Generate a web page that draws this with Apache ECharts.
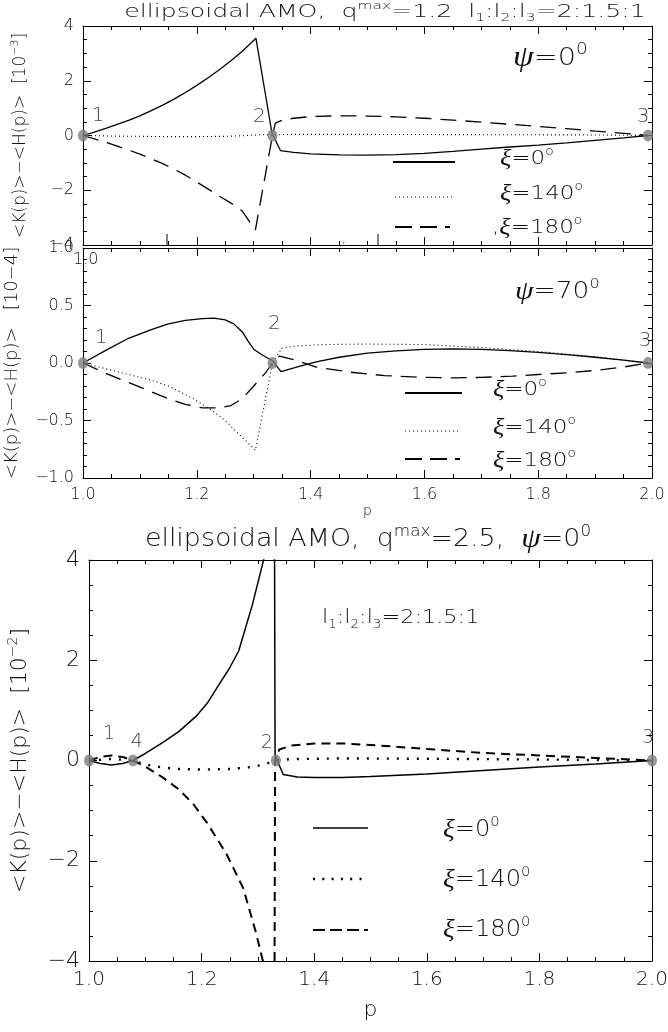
<!DOCTYPE html>
<html><head><meta charset="utf-8">
<script src="https://cdn.jsdelivr.net/npm/echarts@6/dist/echarts.min.js"></script>
<style>html,body{margin:0;padding:0;background:#fff}#c{width:668px;height:1032px}</style>
</head><body><div id="c"></div>
<script>
// ---------- DATA ----------
// Panel A: q_max = 1.2, psi = 0 deg  (units 1e-3)
const pA_xi0   = [1.00,1.02,1.04,1.06,1.08,1.10,1.12,1.14,1.16,1.18,1.20,1.22,1.24,1.26,1.28,1.304,1.332,1.347,1.37,1.40,1.45,1.50,1.55,1.60,1.65,1.70,1.75,1.80,1.85,1.90,1.95,1.993];
const vA_xi0   = [0,0.12,0.26,0.41,0.55,0.72,0.91,1.11,1.33,1.57,1.83,2.11,2.41,2.73,3.08,3.55,0.10,-0.55,-0.62,-0.67,-0.71,-0.72,-0.70,-0.65,-0.58,-0.50,-0.42,-0.35,-0.27,-0.18,-0.09,0];
const pA_xi140 = [1.00,1.05,1.10,1.15,1.20,1.25,1.28,1.31,1.333,1.36,1.50,1.70,1.90,1.993];
const vA_xi140 = [0,-0.02,-0.03,-0.04,-0.04,-0.03,-0.01,0.03,0.02,0.04,0.04,0.03,0.02,0];
const pA_xi180 = [1.00,1.02,1.04,1.06,1.08,1.10,1.12,1.14,1.16,1.18,1.20,1.22,1.24,1.26,1.28,1.303,1.333,1.338,1.35,1.37,1.40,1.45,1.50,1.55,1.60,1.65,1.70,1.75,1.80,1.85,1.90,1.95,1.993];
const vA_xi180 = [0,-0.12,-0.25,-0.39,-0.53,-0.68,-0.85,-1.03,-1.23,-1.45,-1.70,-1.96,-2.22,-2.47,-2.76,-3.45,0.0,0.45,0.56,0.63,0.69,0.72,0.71,0.68,0.63,0.56,0.49,0.41,0.33,0.25,0.16,0.08,0];
const ptsA_p = [1.0,1.333,1.993];
const ptsA_names = ['1','2','3'];

// Panel B: q_max = 1.2, psi = 70 deg (units 1e-4)
const pB_xi0   = [1.00,1.04,1.08,1.12,1.15,1.18,1.21,1.23,1.25,1.265,1.28,1.29,1.30,1.315,1.333,1.348,1.38,1.41,1.45,1.50,1.55,1.60,1.65,1.70,1.75,1.80,1.85,1.90,1.95,1.993];
const vB_xi0   = [0,0.11,0.215,0.29,0.34,0.37,0.385,0.39,0.375,0.34,0.27,0.19,0.12,0.07,0.02,-0.075,-0.03,0.01,0.05,0.085,0.105,0.118,0.122,0.118,0.108,0.092,0.072,0.05,0.025,0];
const pB_xi140 = [1.00,1.04,1.08,1.12,1.15,1.19,1.226,1.25,1.27,1.287,1.303,1.333,1.35,1.38,1.42,1.50,1.60,1.70,1.80,1.90,1.993];
const vB_xi140 = [0,-0.05,-0.1,-0.15,-0.2,-0.3,-0.41,-0.5,-0.6,-0.68,-0.76,0.0,0.13,0.15,0.16,0.165,0.16,0.135,0.1,0.055,0];
const pB_xi180 = [1.00,1.04,1.08,1.12,1.15,1.18,1.21,1.24,1.26,1.28,1.30,1.32,1.333,1.345,1.37,1.41,1.47,1.53,1.60,1.65,1.70,1.755,1.80,1.85,1.90,1.95,1.993];
const vB_xi180 = [0,-0.09,-0.17,-0.25,-0.31,-0.36,-0.39,-0.39,-0.37,-0.31,-0.2,-0.09,0.0,0.06,0.03,-0.035,-0.08,-0.11,-0.125,-0.13,-0.125,-0.115,-0.1,-0.085,-0.065,-0.035,0];
const ptsB_p = [1.0,1.333,1.993];
const ptsB_names = ['1','2','3'];

// Panel C: q_max = 2.5, psi = 0 deg (units 1e-2)
const pC_xi0   = [1.00,1.02,1.04,1.06,1.078,1.10,1.13,1.16,1.19,1.21,1.23,1.25,1.266,1.29,1.311,1.32,1.3295,1.3305,1.345,1.37,1.40,1.45,1.50,1.60,1.70,1.80,1.90,2.00];
const vC_xi0   = [0,-0.06,-0.09,-0.06,0,0.14,0.35,0.58,0.88,1.14,1.5,1.85,2.19,3.1,4.04,4.6,4.6,0.1,-0.28,-0.33,-0.34,-0.34,-0.32,-0.27,-0.2,-0.13,-0.07,0];
const pC_xi140 = [1.00,1.04,1.078,1.10,1.13,1.16,1.20,1.25,1.29,1.31,1.332,1.36,1.45,1.60,1.80,2.00];
const vC_xi140 = [0,0.03,0,-0.08,-0.14,-0.17,-0.18,-0.17,-0.13,-0.08,0,0.03,0.04,0.035,0.02,0];
const pC_xi180 = [1.00,1.02,1.04,1.06,1.078,1.10,1.13,1.16,1.186,1.21,1.244,1.274,1.297,1.311,1.32,1.3295,1.3305,1.338,1.36,1.40,1.45,1.50,1.55,1.60,1.70,1.80,1.90,2.00];
const vC_xi180 = [0,0.07,0.1,0.07,0,-0.12,-0.33,-0.58,-0.88,-1.25,-1.86,-2.55,-3.45,-4.1,-4.6,-4.6,0.0,0.22,0.3,0.34,0.34,0.31,0.27,0.23,0.15,0.1,0.05,0];
const ptsC_p = [1.0,1.078,1.332,2.0];
const ptsC_names = ['1','4','2','3'];

// Tick labels
const xTicks = ['1.0','1.2','1.4','1.6','1.8','2.0'];
const yTicksA = ['−4','−2','0','2','4'];
const yTicksB = ['−1.0','−0.5','0.0','0.5','1.0'];
const yTicksC = ['−4','−2','0','2','4'];

// ---------- STYLE / BUILD ----------
const FONT = 'DejaVu Sans Light, DejaVu Sans';
const GREEK = 'Liberation Serif';
const TXT = '#111';
const zip = (p, v) => p.map((x, i) => [x, v[i]]);

function richSet(base, k) {
  const s = Math.round(base * 0.62);
  const o = {
    sup: {fontSize: s, fontFamily: FONT, lineHeight: s, verticalAlign: 'top'},
    sub: {fontSize: s, fontFamily: FONT, lineHeight: s, verticalAlign: 'bottom'},
    g: {fontSize: Math.round(base * 1.15), fontFamily: GREEK, fontStyle: 'italic', lineHeight: Math.round(base * 1.3)}
  };
  Object.values(o).forEach(r => r[k] = TXT);
  return o;
}
function gtext(x, y, text, size, align, sx) {
  return {type: 'text', x: x, y: y, scaleX: sx || 1, silent: true, style: {
    text: text, fontSize: size, fontFamily: FONT, fill: TXT, lineHeight: Math.round(size * 1.3),
    rich: richSet(size, 'fill'), align: align || 'left', verticalAlign: 'middle',
    textAlign: align || 'left', textVerticalAlign: 'middle'}};
}
function gline(x1, y1, x2, y2, w, dash) {
  return {type: 'line', silent: true, shape: {x1, y1, x2, y2},
    style: {stroke: '#000', lineWidth: w, lineDash: dash || null}};
}

const grids = [
  {left: 83, top: 26, width: 569, height: 219, outerBoundsMode: 'none'},
  {left: 83, top: 248, width: 569, height: 230, outerBoundsMode: 'none'},
  {left: 89, top: 560, width: 563, height: 401, outerBoundsMode: 'none'}
];

function xAx(gi, pos, showLab, labSize, name, nameGap, nameSize) {
  return {type: 'value', gridIndex: gi, position: pos, min: 1.0, max: 2.0, interval: 0.2,
    axisLine: {show: true, onZero: false, lineStyle: {color: '#000', width: 1}},
    axisTick: {show: true, inside: true, length: 8, lineStyle: {color: '#000'}},
    minorTick: {show: true, splitNumber: 4, length: 4, lineStyle: {color: '#000'}},
    splitLine: {show: false},
    axisLabel: {show: showLab, fontSize: labSize, fontFamily: FONT, color: TXT, margin: 9,
      formatter: v => xTicks[Math.round((v - 1) / 0.2)]},
    name: name || '', nameLocation: 'middle', nameGap: nameGap || 0,
    nameTextStyle: {fontSize: nameSize || 14, fontFamily: FONT, color: TXT}
  };
}
function yAx(gi, pos, min, max, interval, minor, labels, showLab, labSize, name, nameGap, nameSize) {
  return {type: 'value', gridIndex: gi, position: pos, min, max, interval,
    axisLine: {show: true, onZero: false, lineStyle: {color: '#000', width: 1}},
    axisTick: {show: true, inside: true, length: 8, lineStyle: {color: '#000'}},
    minorTick: {show: true, splitNumber: minor, length: 4, lineStyle: {color: '#000'}},
    splitLine: {show: false},
    axisLabel: {show: showLab, fontSize: labSize, fontFamily: FONT, color: TXT, margin: 9,
      formatter: v => labels[Math.round((v - min) / interval)]},
    name: name || '', nameLocation: 'middle', nameRotate: 90, nameGap: nameGap || 0,
    nameTextStyle: {fontSize: nameSize || 14, fontFamily: FONT, color: TXT, lineHeight: Math.round((nameSize||14)*1.3),
      rich: richSet(nameSize || 14, 'color')}
  };
}

const xAxis = [
  xAx(0, 'bottom', false, 16), xAx(0, 'top', false, 16),
  xAx(1, 'bottom', true, 16, 'p', 12, 14), xAx(1, 'top', false, 16),
  xAx(2, 'bottom', true, 20, 'p', 38, 22), xAx(2, 'top', false, 20)
];
const yAxis = [
  yAx(0, 'left', -4, 4, 2, 4, yTicksA, true, 16, '<K(p)>−<H(p)>  [10{sup|−3}]', 51, 17),
  yAx(0, 'right', -4, 4, 2, 4, yTicksA, false, 16),
  yAx(1, 'left', -1, 1, 0.5, 5, yTicksB, true, 16, '<K(p)>−<H(p)>   [10−4]', 51, 18),
  yAx(1, 'right', -1, 1, 0.5, 5, yTicksB, false, 16),
  yAx(2, 'left', -4, 4, 2, 4, yTicksC, true, 22, '<K(p)>−<H(p)>  [10{sup|−2}]', 54, 22),
  yAx(2, 'right', -4, 4, 2, 4, yTicksC, false, 22)
];

const thin = {
  solid: {color: '#000', width: 1.3, type: 'solid'},
  dot: {color: '#000', width: 1.1, type: [1, 3]},
  dash: {color: '#000', width: 1.3, type: [16, 9]}
};
const thick = {
  solid: {color: '#000', width: 1.5, type: 'solid'},
  dot: {color: '#000', width: 2.4, type: [2, 8]},
  dash: {color: '#000', width: 2, type: [9, 6]}
};
function lineSeries(gi, data, ls) {
  return {type: 'line', xAxisIndex: gi * 2, yAxisIndex: gi * 2, data, lineStyle: ls,
    showSymbol: false, symbol: 'none', clip: true, animation: false, silent: true, z: 2};
}
function ptSeries(gi, ps, names, offsets, size) {
  return {type: 'scatter', xAxisIndex: gi * 2, yAxisIndex: gi * 2, clip: false, animation: false, silent: true, z: 5,
    symbol: 'circle', symbolSize: [10, 12], itemStyle: {color: '#7d7d7d'},
    data: ps.map((p, i) => ({value: [p, 0], name: names[i],
      label: {show: true, formatter: names[i], position: 'inside', offset: offsets[i],
        fontSize: size, fontFamily: FONT, color: TXT}}))};
}

const series = [
  lineSeries(0, zip(pA_xi0, vA_xi0), thin.solid),
  lineSeries(0, zip(pA_xi140, vA_xi140), thin.dot),
  lineSeries(0, zip(pA_xi180, vA_xi180), thin.dash),
  lineSeries(1, zip(pB_xi0, vB_xi0), thin.solid),
  lineSeries(1, zip(pB_xi140, vB_xi140), thin.dot),
  lineSeries(1, zip(pB_xi180, vB_xi180), thin.dash),
  lineSeries(2, zip(pC_xi0, vC_xi0), thick.solid),
  lineSeries(2, zip(pC_xi140, vC_xi140), thick.dot),
  lineSeries(2, zip(pC_xi180, vC_xi180), thick.dash),
  ptSeries(0, ptsA_p, ptsA_names, [[15, -20], [-13, -19], [-5, -19]], 20),
  ptSeries(1, ptsB_p, ptsB_names, [[18, -25], [2, -39], [-3, -22]], 20),
  ptSeries(2, ptsC_p, ptsC_names, [[20, -26], [4, -18], [-9, -17], [-4, -22]], 19)
];

const graphic = [
  // titles
  gtext(385, 12, 'ellipsoidal AMO,  q{sup|max}=1.2  l{sub|1}:l{sub|2}:l{sub|3}=2:1.5:1', 18, 'center', 1.4),
  gtext(368, 540, 'ellipsoidal AMO,  q{sup|max}=2.5,  {g|ψ}=0{sup|0}', 24, 'center', 1.12),
  gtext(322, 618, 'l{sub|1}:l{sub|2}:l{sub|3}=2:1.5:1', 20, 'left', 1.12),
  gtext(513, 58, '{g|ψ}=0{sup|0}', 25, 'left', 1.15),
  gtext(515, 292, '{g|ψ}=70{sup|0}', 23, 'left', 1.15),
  // legend panel A
  gline(393, 162, 455, 162, 2),
  gline(395, 197, 452, 197, 1.2, [1, 3]),
  gline(395, 227, 450, 227, 2, [17, 8]),
  gtext(500, 159, '{g|ξ}=0{sup|o}', 20, 'left', 1.15),
  gtext(500, 194, '{g|ξ}=140{sup|o}', 20, 'left', 1.15),
  gtext(492, 228, ',{g|ξ}=180{sup|o}', 20, 'left', 1.15),
  // legend panel B
  gline(405, 393, 462, 393, 2),
  gline(405, 431, 460, 431, 1.2, [1, 3]),
  gline(405, 459, 460, 459, 2, [17, 8]),
  gtext(493, 390, '{g|ξ}=0{sup|o}', 20, 'left', 1.15),
  gtext(493, 428, '{g|ξ}=140{sup|o}', 20, 'left', 1.15),
  gtext(493, 461, '{g|ξ}=180{sup|o}', 20, 'left', 1.15),
  // legend panel C
  gline(313, 828, 368, 828, 1.5),
  gline(313, 879, 362, 879, 2.4, [2, 7.3]),
  gline(313, 930, 368, 930, 1.8, [12, 5]),
  gtext(443, 830, '{g|ξ}=0{sup|0}', 23, 'left', 1.05),
  gtext(443, 880, '{g|ξ}=140{sup|0}', 23, 'left', 1.05),
  gtext(443, 930, '{g|ξ}=180{sup|0}', 23, 'left', 1.05),
  // stray marks of the original plot
  gline(167, 234, 167, 245, 1),
  gline(378, 234, 378, 245, 1),
  gtext(344, 238, ',', 14, 'center'),
  gtext(73, 260, '1.0', 16)
];

const chart = echarts.init(document.getElementById('c'), null, {renderer: 'canvas'});
chart.setOption({animation: false, backgroundColor: '#fff', grid: grids, xAxis, yAxis, series, graphic,
  textStyle: {fontFamily: FONT}});
</script></body></html>
